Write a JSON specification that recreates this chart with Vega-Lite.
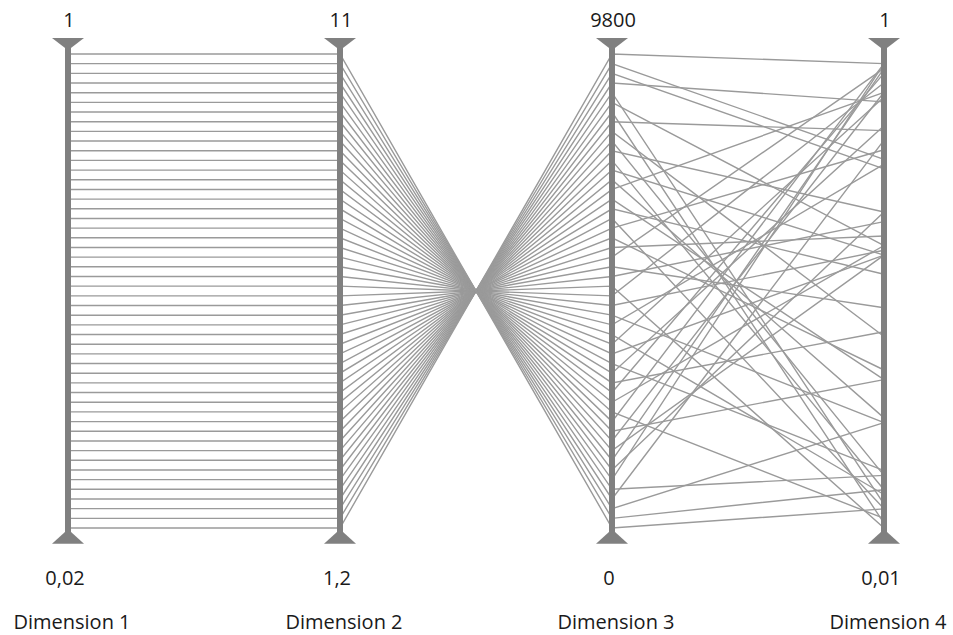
{
  "$schema": "https://vega.github.io/schema/vega-lite/v6.json",
  "width": 953,
  "height": 635,
  "autosize": "none",
  "padding": 0,
  "background": "white",
  "config": {"view": {"stroke": null}},
  "datasets": {
    "records": [
      {"id": 1, "Dimension 1": 0.02, "Dimension 2": 1.2, "Dimension 3": 9800, "Dimension 4": 0.98},
      {"id": 2, "Dimension 1": 0.04, "Dimension 2": 1.4, "Dimension 3": 9600, "Dimension 4": 0.78},
      {"id": 3, "Dimension 1": 0.06, "Dimension 2": 1.6, "Dimension 3": 9400, "Dimension 4": 0.76},
      {"id": 4, "Dimension 1": 0.08, "Dimension 2": 1.8, "Dimension 3": 9200, "Dimension 4": 0.9},
      {"id": 5, "Dimension 1": 0.1, "Dimension 2": 2.0, "Dimension 3": 9000, "Dimension 4": 0.06},
      {"id": 6, "Dimension 1": 0.12, "Dimension 2": 2.2, "Dimension 3": 8800, "Dimension 4": 0.6},
      {"id": 7, "Dimension 1": 0.14, "Dimension 2": 2.4, "Dimension 3": 8600, "Dimension 4": 0.02},
      {"id": 8, "Dimension 1": 0.16, "Dimension 2": 2.6, "Dimension 3": 8400, "Dimension 4": 0.84},
      {"id": 9, "Dimension 1": 0.18, "Dimension 2": 2.8, "Dimension 3": 8200, "Dimension 4": 0.41},
      {"id": 10, "Dimension 1": 0.2, "Dimension 2": 3.0, "Dimension 3": 8000, "Dimension 4": 0.12},
      {"id": 11, "Dimension 1": 0.22, "Dimension 2": 3.2, "Dimension 3": 7800, "Dimension 4": 0.67},
      {"id": 12, "Dimension 1": 0.24, "Dimension 2": 3.4, "Dimension 3": 7600, "Dimension 4": 0.09},
      {"id": 13, "Dimension 1": 0.26, "Dimension 2": 3.6, "Dimension 3": 7400, "Dimension 4": 0.58},
      {"id": 14, "Dimension 1": 0.28, "Dimension 2": 3.8, "Dimension 3": 7200, "Dimension 4": 0.24},
      {"id": 15, "Dimension 1": 0.3, "Dimension 2": 4.0, "Dimension 3": 7000, "Dimension 4": 0.92},
      {"id": 16, "Dimension 1": 0.32, "Dimension 2": 4.2, "Dimension 3": 6800, "Dimension 4": 0.32},
      {"id": 17, "Dimension 1": 0.34, "Dimension 2": 4.4, "Dimension 3": 6600, "Dimension 4": 0.54},
      {"id": 18, "Dimension 1": 0.36, "Dimension 2": 4.6, "Dimension 3": 6400, "Dimension 4": 0.05},
      {"id": 19, "Dimension 1": 0.38, "Dimension 2": 4.8, "Dimension 3": 6200, "Dimension 4": 0.8},
      {"id": 20, "Dimension 1": 0.4, "Dimension 2": 5.0, "Dimension 3": 6000, "Dimension 4": 0.34},
      {"id": 21, "Dimension 1": 0.42, "Dimension 2": 5.2, "Dimension 3": 5800, "Dimension 4": 0.62},
      {"id": 22, "Dimension 1": 0.44, "Dimension 2": 5.4, "Dimension 3": 5600, "Dimension 4": 0.97},
      {"id": 23, "Dimension 1": 0.46, "Dimension 2": 5.6, "Dimension 3": 5400, "Dimension 4": 0.47},
      {"id": 24, "Dimension 1": 0.48, "Dimension 2": 5.8, "Dimension 3": 5200, "Dimension 4": 0.65},
      {"id": 25, "Dimension 1": 0.5, "Dimension 2": 6.0, "Dimension 3": 5000, "Dimension 4": 0.01},
      {"id": 26, "Dimension 1": 0.52, "Dimension 2": 6.2, "Dimension 3": 4800, "Dimension 4": 0.94},
      {"id": 27, "Dimension 1": 0.54, "Dimension 2": 6.4, "Dimension 3": 4600, "Dimension 4": 0.59},
      {"id": 28, "Dimension 1": 0.56, "Dimension 2": 6.6, "Dimension 3": 4400, "Dimension 4": 0.23},
      {"id": 29, "Dimension 1": 0.58, "Dimension 2": 6.8, "Dimension 3": 4200, "Dimension 4": 0.77},
      {"id": 30, "Dimension 1": 0.6, "Dimension 2": 7.0, "Dimension 3": 4000, "Dimension 4": 0.08},
      {"id": 31, "Dimension 1": 0.62, "Dimension 2": 7.2, "Dimension 3": 3800, "Dimension 4": 0.91},
      {"id": 32, "Dimension 1": 0.64, "Dimension 2": 7.4, "Dimension 3": 3600, "Dimension 4": 0.58},
      {"id": 33, "Dimension 1": 0.66, "Dimension 2": 7.6, "Dimension 3": 3400, "Dimension 4": 0.13},
      {"id": 34, "Dimension 1": 0.68, "Dimension 2": 7.8, "Dimension 3": 3200, "Dimension 4": 0.85},
      {"id": 35, "Dimension 1": 0.7, "Dimension 2": 8.0, "Dimension 3": 3000, "Dimension 4": 0.42},
      {"id": 36, "Dimension 1": 0.72, "Dimension 2": 8.2, "Dimension 3": 2800, "Dimension 4": 0.96},
      {"id": 37, "Dimension 1": 0.74, "Dimension 2": 8.4, "Dimension 3": 2600, "Dimension 4": 0.6},
      {"id": 38, "Dimension 1": 0.76, "Dimension 2": 8.6, "Dimension 3": 2400, "Dimension 4": 0.03},
      {"id": 39, "Dimension 1": 0.78, "Dimension 2": 8.8, "Dimension 3": 2200, "Dimension 4": 0.98},
      {"id": 40, "Dimension 1": 0.8, "Dimension 2": 9.0, "Dimension 3": 2000, "Dimension 4": 0.32},
      {"id": 41, "Dimension 1": 0.82, "Dimension 2": 9.2, "Dimension 3": 1800, "Dimension 4": 0.92},
      {"id": 42, "Dimension 1": 0.84, "Dimension 2": 9.4, "Dimension 3": 1600, "Dimension 4": 0.58},
      {"id": 43, "Dimension 1": 0.86, "Dimension 2": 9.6, "Dimension 3": 1400, "Dimension 4": 0.97},
      {"id": 44, "Dimension 1": 0.88, "Dimension 2": 9.8, "Dimension 3": 1200, "Dimension 4": 0.67},
      {"id": 45, "Dimension 1": 0.9, "Dimension 2": 10.0, "Dimension 3": 1000, "Dimension 4": 0.98},
      {"id": 46, "Dimension 1": 0.92, "Dimension 2": 10.2, "Dimension 3": 800, "Dimension 4": 0.12},
      {"id": 47, "Dimension 1": 0.94, "Dimension 2": 10.4, "Dimension 3": 600, "Dimension 4": 0.82},
      {"id": 48, "Dimension 1": 0.96, "Dimension 2": 10.6, "Dimension 3": 400, "Dimension 4": 0.23},
      {"id": 49, "Dimension 1": 0.98, "Dimension 2": 10.8, "Dimension 3": 200, "Dimension 4": 0.09},
      {"id": 50, "Dimension 1": 1.0, "Dimension 2": 11.0, "Dimension 3": 0, "Dimension 4": 0.05}
    ],
    "axes": [
      {"dimension": "Dimension 1", "min": 0.02, "max": 1},
      {"dimension": "Dimension 2", "min": 1.2, "max": 11},
      {"dimension": "Dimension 3", "min": 0, "max": 9800},
      {"dimension": "Dimension 4", "min": 0.01, "max": 1}
    ]
  },
  "layer": [
    {
      "data": {"name": "records"},
      "transform": [
        {"fold": ["Dimension 1", "Dimension 2", "Dimension 3", "Dimension 4"], "as": ["dimension", "value"]},
        {"lookup": "dimension", "from": {"data": {"name": "axes"}, "key": "dimension", "fields": ["min", "max"]}},
        {"calculate": "(datum.value - datum.min) / (datum.max - datum.min)", "as": "norm"}
      ],
      "mark": {"type": "line", "color": "#9a9a9a", "strokeWidth": 1.4},
      "encoding": {
        "x": {
          "field": "dimension",
          "type": "nominal",
          "scale": {"type": "point", "domain": ["Dimension 1", "Dimension 2", "Dimension 3", "Dimension 4"], "range": [68, 884], "padding": 0},
          "axis": null
        },
        "y": {
          "field": "norm",
          "type": "quantitative",
          "scale": {"domain": [0, 1], "range": [528, 54], "nice": false, "zero": false},
          "axis": null
        },
        "detail": {"field": "id", "type": "nominal"},
        "order": {"field": "dimension", "type": "nominal"}
      }
    },
    {
      "data": {"name": "axes"},
      "mark": {"type": "rule", "color": "#808080", "strokeWidth": 6},
      "encoding": {
        "x": {"field": "dimension", "type": "nominal"},
        "y": {"datum": 1.02},
        "y2": {"datum": -0.018}
      }
    },
    {
      "data": {"name": "axes"},
      "mark": {"type": "point", "shape": "M-1,-0.38L1,-0.38L0,0.38Z", "filled": true, "size": 1024, "color": "#808080", "opacity": 1},
      "encoding": {
        "x": {"field": "dimension", "type": "nominal"},
        "y": {"datum": 1.021}
      }
    },
    {
      "data": {"name": "axes"},
      "mark": {"type": "point", "shape": "M-1,0.45L1,0.45L0,-0.45Z", "filled": true, "size": 1024, "color": "#808080", "opacity": 1},
      "encoding": {
        "x": {"field": "dimension", "type": "nominal"},
        "y": {"datum": -0.018}
      }
    },
    {
      "data": {"name": "axes"},
      "transform": [{"calculate": "replace(format(datum.max, '~g'), '.', ',')", "as": "label"}],
      "mark": {"type": "text", "font": "Open Sans", "fontSize": 20, "color": "#1a1a1a", "baseline": "alphabetic", "align": "center", "dx": 1},
      "encoding": {
        "x": {"field": "dimension", "type": "nominal"},
        "y": {"datum": 1.057},
        "text": {"field": "label"}
      }
    },
    {
      "data": {"name": "axes"},
      "transform": [{"calculate": "replace(format(datum.min, '~g'), '.', ',')", "as": "label"}],
      "mark": {"type": "text", "font": "Open Sans", "fontSize": 20, "color": "#1a1a1a", "baseline": "alphabetic", "align": "center", "dx": -3},
      "encoding": {
        "x": {"field": "dimension", "type": "nominal"},
        "y": {"datum": -0.12},
        "text": {"field": "label"}
      }
    },
    {
      "data": {"name": "axes"},
      "mark": {"type": "text", "font": "Open Sans", "fontSize": 20, "color": "#1a1a1a", "baseline": "alphabetic", "align": "center", "dx": 4},
      "encoding": {
        "x": {"field": "dimension", "type": "nominal"},
        "y": {"datum": -0.213},
        "text": {"field": "dimension"}
      }
    }
  ]
}
